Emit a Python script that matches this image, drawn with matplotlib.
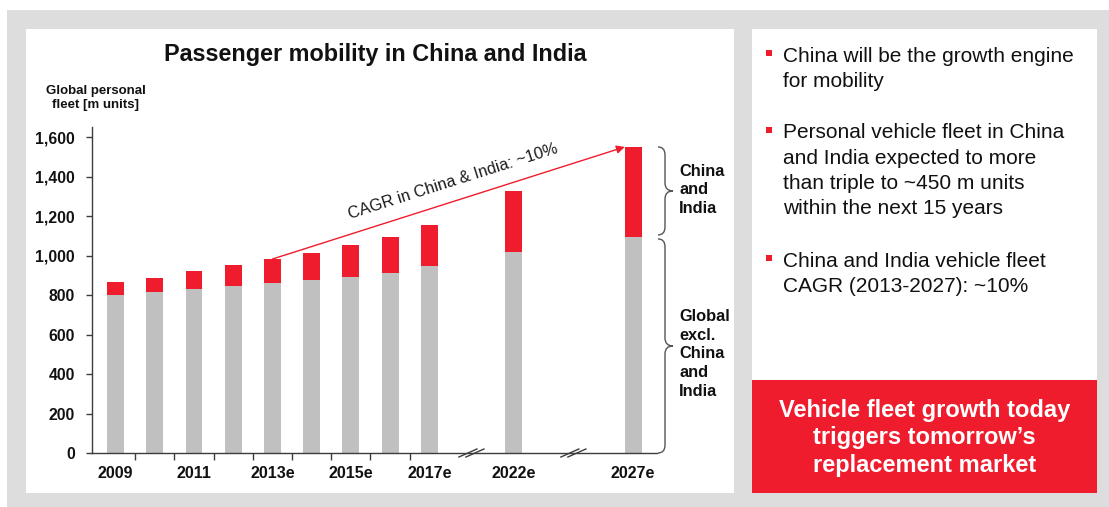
import math
import matplotlib
matplotlib.use('Agg')
import matplotlib.pyplot as plt
from matplotlib.patches import Rectangle, PathPatch
from matplotlib.path import Path

plt.rcParams['font.family'] = ['Liberation Sans', 'DejaVu Sans']

# ---------------- data ----------------
years = ['2009', '2010', '2011', '2012', '2013e', '2014e', '2015e', '2016e', '2017e', '2022e', '2027e']
tick_labels = ['2009', '', '2011', '', '2013e', '', '2015e', '', '2017e', '2022e', '2027e']
global_excl = [800, 816, 831, 846, 862, 877, 892, 912, 948, 1019, 1095]
china_india = [67, 71, 91, 107, 121, 137, 162, 183, 207, 309, 456]
y_ticks = [0, 200, 400, 600, 800, 1000, 1200, 1400, 1600]

title = 'Passenger mobility in China and India'
y_label = 'Global personal\nfleet [m units]'
cagr_label = 'CAGR in China & India: ~10%'
brace_top_label = 'China\nand\nIndia'
brace_bottom_label = 'Global\nexcl.\nChina\nand\nIndia'
bullets = [
    ['China will be the growth engine', 'for mobility'],
    ['Personal vehicle fleet in China', 'and India expected to more',
     'than triple to ~450 m units', 'within the next 15 years'],
    ['China and India vehicle fleet', 'CAGR (2013-2027): ~10%'],
]
box_lines = ['Vehicle fleet growth today', 'triggers tomorrow\u2019s', 'replacement market']

# ---------------- style ----------------
RED = '#EE1C2D'
BAR_GREY = '#C0C0C0'
BG_GREY = '#DDDDDD'
AX_COL = '#3C3C3C'
W, H = 1109, 507

totals = [g + c for g, c in zip(global_excl, china_india)]
# x positions: regular years, then gaps (axis breaks) before 2022e and 2027e
pos = list(range(9)) + [10.15, 13.2]
bar_w = 0.43

fig = plt.figure(figsize=(W / 100, H / 100), dpi=100)
fig.patch.set_facecolor('white')

# background / panel layer in pixel coordinates
bg = fig.add_axes([0, 0, 1, 1], zorder=0)
bg.set_xlim(0, W)
bg.set_ylim(H, 0)
bg.axis('off')
bg.add_patch(Rectangle((7, 10), W - 7, H - 10, color=BG_GREY, lw=0))
bg.add_patch(Rectangle((26, 29), 734 - 26, 493 - 29, color='white', lw=0))
bg.add_patch(Rectangle((752, 29), 1097 - 752, 380 - 29, color='white', lw=0))
bg.add_patch(Rectangle((752, 380), 1097 - 752, 493 - 380, color=RED, lw=0))

# main chart
ax = fig.add_axes([91.7 / W, (H - 453) / H, 565 / W, (453 - 127.4) / H], zorder=1)
ax.patch.set_alpha(0)
ax.bar(pos, global_excl, width=bar_w, color=BAR_GREY, zorder=2)
ax.bar(pos, china_india, bottom=global_excl, width=bar_w, color=RED, zorder=2)
ax.set_xlim(-0.61, 13.8)
ax.set_ylim(0, 1650)

for s in ['top', 'right']:
    ax.spines[s].set_visible(False)
for s in ['left', 'bottom']:
    ax.spines[s].set_color(AX_COL)
    ax.spines[s].set_linewidth(1)

ax.set_yticks(y_ticks)
ax.set_yticklabels([f'{v:,}' for v in y_ticks], fontweight='bold', fontsize=11.3, color='#111111')
ax.tick_params(axis='y', length=4, width=1, pad=8, color=AX_COL, direction='out')

ax.set_xticks([i + 0.5 for i in range(8)])
ax.set_xticklabels([])
ax.tick_params(axis='x', which='major', length=5, width=1, color=AX_COL, direction='out')
lab_pos = [p for p, l in zip(pos, tick_labels) if l]
lab_txt = [l for l in tick_labels if l]
ax.set_xticks(lab_pos, minor=True)
ax.set_xticklabels(lab_txt, minor=True, fontweight='bold', fontsize=11.5, color='#111111')
ax.tick_params(axis='x', which='minor', length=0, pad=9.5)

# axis break marks
for b in [(pos[8] + pos[9]) / 2, (pos[9] + pos[10]) / 2]:
    bx, by = ax.transData.transform((b, 0))
    by = H - by
    for d in (-3.5, 3.5):
        bg.plot([bx + d - 9, bx + d + 9], [by + 4, by - 4], color=AX_COL, lw=1, zorder=3)

# CAGR arrow
x0, y0 = pos[4], totals[4]
x1, y1 = pos[-1] - bar_w / 2, totals[-1]
ax.annotate('', xy=(x1, y1), xytext=(x0, y0),
            arrowprops=dict(arrowstyle='-|>', color=RED, lw=1, mutation_scale=12,
                            shrinkA=0, shrinkB=0),
            annotation_clip=False, zorder=4)
p0 = ax.transData.transform((x0, y0))
p1 = ax.transData.transform((x1, y1))
ang = math.atan2(p1[1] - p0[1], p1[0] - p0[0])
t = 0.53
mx = x0 + t * (x1 - x0)
my = y0 + t * (y1 - y0)
off = 19
ax.annotate(cagr_label, xy=(mx, my), xytext=(-off * math.sin(ang), off * math.cos(ang)),
            textcoords='offset pixels', rotation=math.degrees(ang), rotation_mode='anchor',
            ha='center', va='center', fontsize=11.8, color='#1a1a1a', annotation_clip=False)


# braces
def brace(x_end, x_mid, x_tip, yt, yb):
    ym = (yt + yb) / 2
    r = 8
    verts = [(x_end, yt), (x_mid, yt), (x_mid, yt + r),
             (x_mid, ym - r), (x_mid, ym), (x_tip, ym),
             (x_mid, ym), (x_mid, ym + r),
             (x_mid, yb - r), (x_mid, yb), (x_end, yb)]
    codes = [Path.MOVETO, Path.CURVE3, Path.CURVE3,
             Path.LINETO, Path.CURVE3, Path.CURVE3,
             Path.CURVE3, Path.CURVE3,
             Path.LINETO, Path.CURVE3, Path.CURVE3]
    bg.add_patch(PathPatch(Path(verts, codes), fill=False, edgecolor='#555555', lw=1, zorder=3))
    return ym


def to_px_y(v):
    return H - ax.transData.transform((0, v))[1]


top_px = to_px_y(totals[-1])
mid_px = to_px_y(global_excl[-1])
zero_px = to_px_y(0)
m1 = brace(658, 665, 673, top_px, mid_px - 2)
m2 = brace(658, 665, 673, mid_px + 2, zero_px)
bg.text(679, m1 - 1, brace_top_label, fontweight='bold', fontsize=11.8, ha='left', va='center',
        linespacing=1.3, color='#111111')
bg.text(679, m2 + 8, brace_bottom_label, fontweight='bold', fontsize=11.8, ha='left', va='center',
        linespacing=1.3, color='#111111')

# title and y label
bg.text(375, 55, title, fontweight='bold', fontsize=16.8, ha='center', va='center', color='#111111')
bg.text(96, 98, y_label, fontweight='bold', fontsize=9.5, ha='center', va='center',
        linespacing=1.15, color='#111111')

# right panel bullets
first_baselines = [61.7, 138.3, 266.7]
line_step = 25.2
for fb, lines in zip(first_baselines, bullets):
    bg.add_patch(Rectangle((765.5, fb - 11.5), 6, 6, color=RED, lw=0))
    for k, ln in enumerate(lines):
        bg.text(783, fb + k * line_step, ln, fontsize=15, ha='left', va='baseline', color='#111111')

for k, ln in enumerate(box_lines):
    bg.text(924.5, 416.7 + k * 27.5, ln, fontsize=17, fontweight='bold', ha='center',
            va='baseline', color='white')

fig.savefig('out.png', dpi=100)
